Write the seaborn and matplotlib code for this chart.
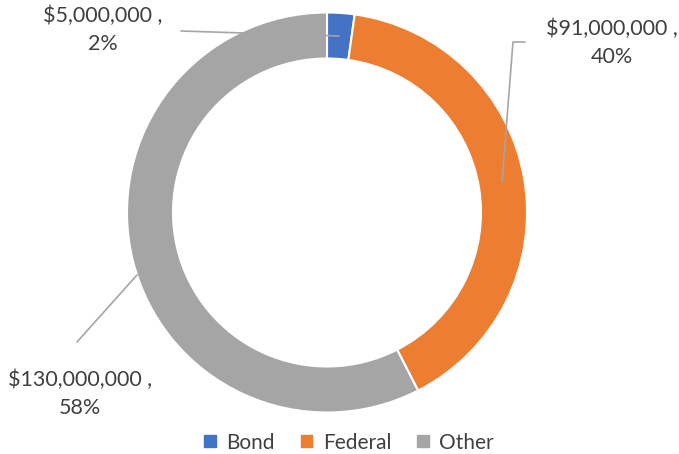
import matplotlib
matplotlib.use("Agg")
import matplotlib.pyplot as plt
import matplotlib.patches as mpatches
import seaborn as sns

# data
categories = ["Bond", "Federal", "Other"]
amounts = [5000000, 91000000, 130000000]
colors = ["#4472C4", "#ED7D31", "#A5A5A5"]

# layout (pixel coords, y measured from the bottom of the figure)
W, H = 679, 454
center = (327, H - 212.5)
radius = 200
ring_width = 46
label_pos = [(103, H - 30), (612, H - 43), (80, H - 394)]
leader_pts = [
    [(181, H - 31), (339, H - 36)],
    [(525, H - 42), (513, H - 42), (502, H - 182)],
    [(77, H - 342), (137, H - 275)],
]

sns.set_theme(style="white")
plt.rcParams["font.family"] = ["Lato", "DejaVu Sans"]
text_color = "#404040"

fig = plt.figure(figsize=(W / 100, H / 100), dpi=100)
ax = fig.add_axes([0, 0, 1, 1])
ax.set_xlim(0, W)
ax.set_ylim(0, H)
ax.set_aspect("equal")
ax.axis("off")

wedges, _ = ax.pie(
    amounts,
    colors=colors,
    startangle=90,
    counterclock=False,
    center=center,
    radius=radius,
    wedgeprops=dict(width=ring_width, edgecolor="white", linewidth=1.5),
)
ax.set_xlim(0, W)
ax.set_ylim(0, H)

total = sum(amounts)
for i, v in enumerate(amounts):
    pct = v / total * 100
    txt = f"${v:,.0f} ,\n{pct:.0f}%"
    ax.text(label_pos[i][0], label_pos[i][1], txt, ha="center", va="center",
            multialignment="center", fontsize=15.5, color=text_color,
            linespacing=1.5)
    xs = [p[0] for p in leader_pts[i]]
    ys = [p[1] for p in leader_pts[i]]
    ax.plot(xs, ys, color="#A6A6A6", linewidth=1.2)

handles = [mpatches.Patch(color=c, label=n) for c, n in zip(colors, categories)]
fig.legend(handles=handles, loc="lower center", ncol=3, frameon=False,
           bbox_to_anchor=(0.514, -0.038), fontsize=15, handlelength=0.55,
           handleheight=0.55, handletextpad=0.5, columnspacing=1.25,
           labelcolor=text_color)

fig.savefig("out.png", dpi=100)
